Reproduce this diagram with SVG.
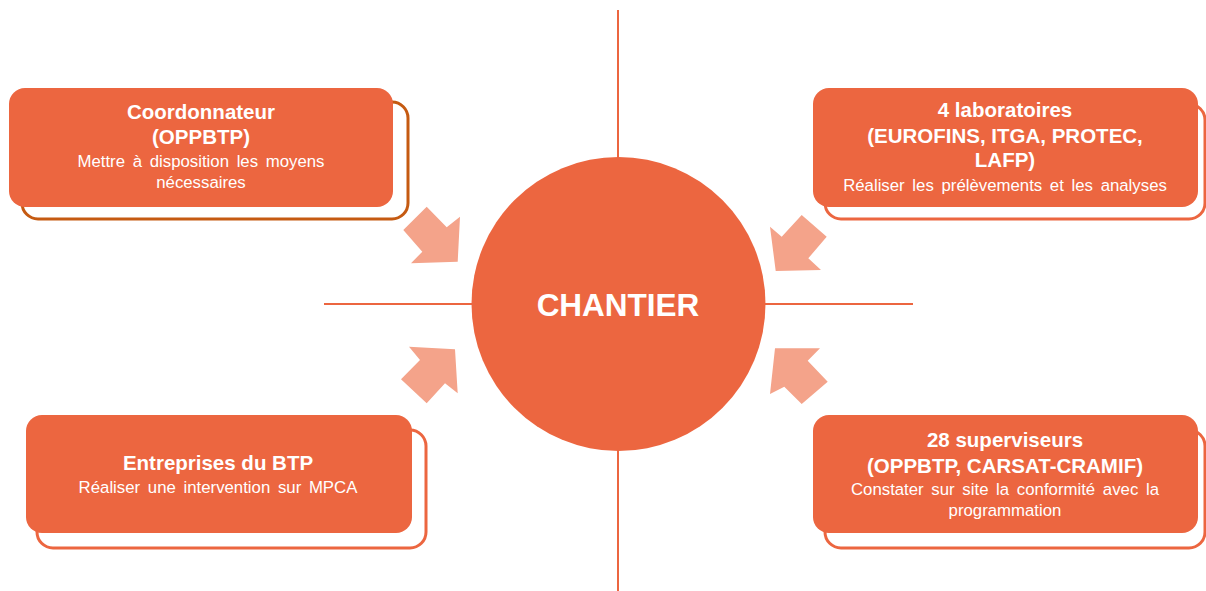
<svg xmlns="http://www.w3.org/2000/svg" width="1206" height="591" viewBox="0 0 1206 591">
  <defs>
    <style>
      .axis { stroke: #EC6640; stroke-width: 2; fill: none; }
      .back { fill: #FFFFFF; stroke: #EC6640; stroke-width: 3; }
      .back-dark { fill: #FFFFFF; stroke: #C55A11; stroke-width: 3; }
      .front { fill: #EC6640; }
      .arrow { fill: #F4A38A; }
      .title { font-family: "Liberation Sans", Arial, sans-serif; font-weight: bold; font-size: 20.5px; fill: #FFFFFF; text-anchor: middle; }
      .sub { font-family: "Liberation Sans", Arial, sans-serif; font-size: 16.8px; fill: #FFFFFF; text-anchor: middle; word-spacing: 3px; }
      .center { font-family: "Liberation Sans", Arial, sans-serif; font-weight: bold; font-size: 31.5px; fill: #FFFFFF; text-anchor: middle; }
    </style>
  </defs>
  <rect width="1206" height="591" fill="#FFFFFF"/>

  <g id="connectors">
    <line class="axis" x1="618" y1="10" x2="618" y2="591"/>
    <line class="axis" x1="324" y1="304" x2="913" y2="304"/>
    <polygon class="arrow" points="426.7,206.7 446.7,227.3 460,216.7 457.7,261.7 411,263.3 422.3,251.7 403.3,230"/>
    <polygon class="arrow" points="801.7,215 826.7,236.7 808.3,258.3 821,270 775.7,271 770,226.7 781.7,236.7"/>
    <polygon class="arrow" points="409,346.7 455,349.3 457.7,393.3 445,383.3 426.7,403.3 401,379.3 420,360"/>
    <polygon class="arrow" points="775,348.3 820,348.3 807.7,360.7 827.7,381.7 801.7,404 784.3,386.7 770,394"/>
  </g>

  <g id="chantier">
    <circle class="front" cx="618.5" cy="304" r="147"/>
    <text class="center" x="618" y="316">CHANTIER</text>
  </g>

  <g id="coordonnateur">
    <rect class="back-dark" x="22" y="102" width="386" height="117" rx="16"/>
    <rect class="front" x="9" y="88" width="384" height="119" rx="16"/>
    <text class="title" x="201" y="119">Coordonnateur</text>
    <text class="title" x="201" y="144">(OPPBTP)</text>
    <text class="sub" x="201" y="167">Mettre  à disposition les moyens</text>
    <text class="sub" x="201" y="188">nécessaires</text>
  </g>

  <g id="laboratoires">
    <rect class="back" x="825" y="104" width="380" height="115" rx="16"/>
    <rect class="front" x="813" y="88" width="385" height="119" rx="16"/>
    <text class="title" x="1005" y="117">4 laboratoires</text>
    <text class="title" x="1005" y="143">(EUROFINS, ITGA, PROTEC,</text>
    <text class="title" x="1005" y="167">LAFP)</text>
    <text class="sub" x="1005" y="191">Réaliser les prélèvements  et les analyses</text>
  </g>

  <g id="entreprises">
    <rect class="back" x="37" y="430" width="389" height="118" rx="16"/>
    <rect class="front" x="26" y="415" width="386" height="118" rx="16"/>
    <text class="title" x="218" y="470">Entreprises du BTP</text>
    <text class="sub" x="218" y="493">Réaliser une intervention  sur MPCA</text>
  </g>

  <g id="superviseurs">
    <rect class="back" x="825" y="430" width="380" height="118" rx="16"/>
    <rect class="front" x="813" y="415" width="385" height="118" rx="16"/>
    <text class="title" x="1005" y="447">28 superviseurs</text>
    <text class="title" x="1005" y="473">(OPPBTP, CARSAT-CRAMIF)</text>
    <text class="sub" x="1005" y="495">Constater sur site la conformité  avec la</text>
    <text class="sub" x="1005" y="516">programmation</text>
  </g>
</svg>
